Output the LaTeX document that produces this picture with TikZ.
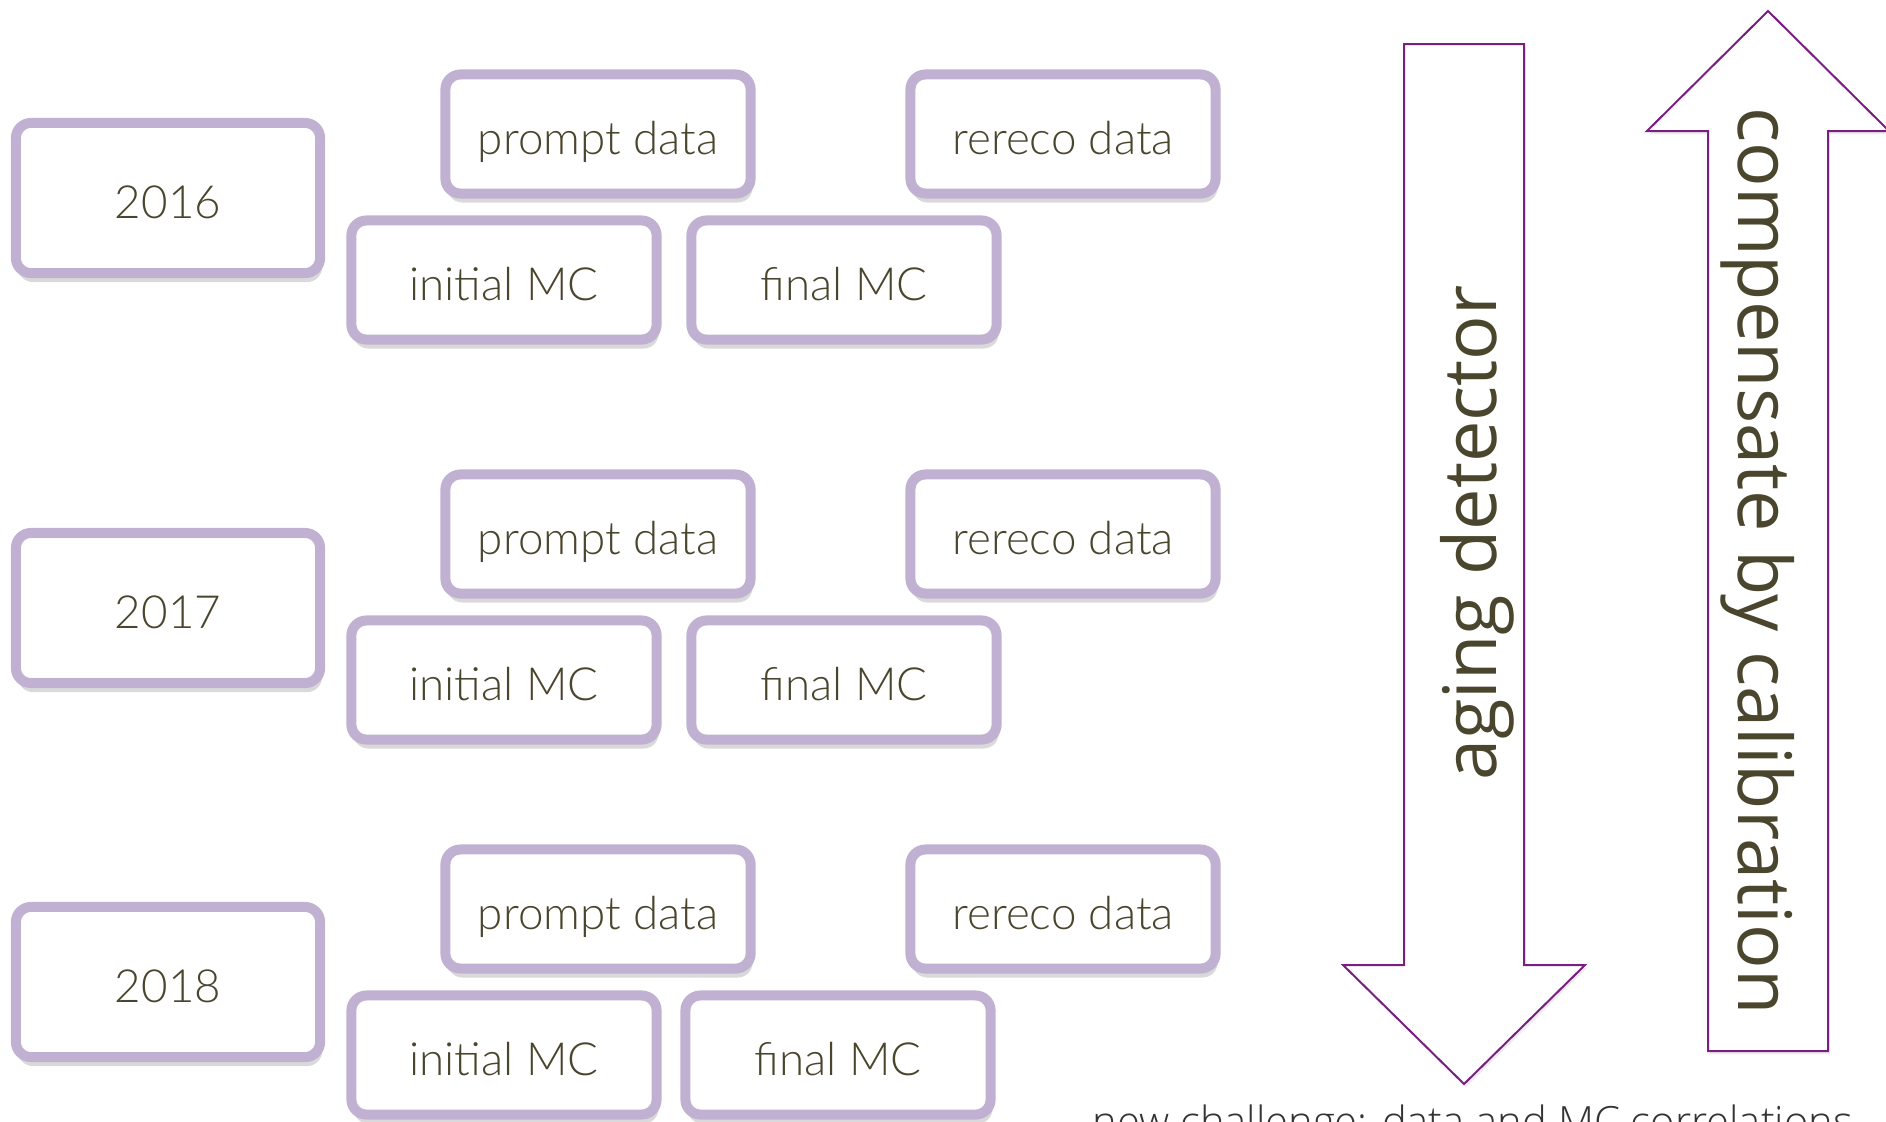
\documentclass[tikz,border=0pt]{standalone}
\usepackage{fontspec}
\setmainfont{Lato Light}
\newfontfamily\arrowfont{Open Sans}
\newfontfamily\notefont{Open Sans Light}
\usetikzlibrary{positioning, shadows}
\definecolor{boxlilac}{RGB}{192,176,210}
\definecolor{boxtext}{RGB}{74,69,45}
\definecolor{arrowpurple}{RGB}{122,31,130}

\begin{document}
\begin{tikzpicture}[x=0.01cm, y=-0.01cm,
    yearbox/.style={draw=boxlilac, line width=0.1cm, rounded corners=0.15cm, fill=white,
        minimum width=3.04cm, minimum height=1.5cm, inner sep=0pt,
        text height=0.45cm, text depth=0.05cm,
        text=boxtext, font=\fontsize{13}{15}\selectfont,
        drop shadow={shadow xshift=0.02cm, shadow yshift=-0.09cm, opacity=0.3}},
    runbox/.style={yearbox, minimum width=3.05cm, minimum height=1.19cm},
    bigarrow/.style={draw=arrowpurple, line width=0.02cm, fill=white,
        drop shadow={shadow xshift=0.02cm, shadow yshift=-0.03cm, opacity=0.15}},
    arrowlabel/.style={text=boxtext, font=\arrowfont\fontsize{21}{24}\selectfont}]
    \useasboundingbox (0,0) rectangle (1886,1121);
    \clip (0,0) rectangle (1886,1121);

    % 2016
    \node[yearbox] (y2016) at (168,198) {2016};
    \node[runbox] (prompt2016) at (598,134) {prompt data};
    \node[runbox] (rereco2016) at (1063,134) {rereco data};
    \node[runbox] (initial2016) at (504,280) {initial MC};
    \node[runbox] (final2016) at (844,280) {final MC};

    % 2017
    \node[yearbox] (y2017) at (168,608) {2017};
    \node[runbox] (prompt2017) at (598,534) {prompt data};
    \node[runbox] (rereco2017) at (1063,534) {rereco data};
    \node[runbox] (initial2017) at (504,680) {initial MC};
    \node[runbox] (final2017) at (844,680) {final MC};

    % 2018
    \node[yearbox] (y2018) at (168,982) {2018};
    \node[runbox] (prompt2018) at (598,909) {prompt data};
    \node[runbox] (rereco2018) at (1063,909) {rereco data};
    \node[runbox] (initial2018) at (504,1055) {initial MC};
    \node[runbox] (final2018) at (838,1055) {final MC};

    % block arrows
    \draw[bigarrow] (1404,44) -- (1524,44) -- (1524,965) -- (1585,965)
        -- (1464,1084) -- (1343,965) -- (1404,965) -- cycle;
    \draw[bigarrow] (1768,11) -- (1889,131) -- (1828,131) -- (1828,1051)
        -- (1708,1051) -- (1708,131) -- (1647,131) -- cycle;
    \node[arrowlabel, rotate=90] (aging) at (1477,533) {aging detector};
    \node[arrowlabel, rotate=-90] (compensate) at (1758,561) {compensate by calibration};

    \node[anchor=base west, inner sep=0pt, text=black!80, font=\notefont\fontsize{11.85}{13}\selectfont]
        (challenge) at (1092,1136) {new challenge: data and MC correlations};
\end{tikzpicture}
\end{document}
